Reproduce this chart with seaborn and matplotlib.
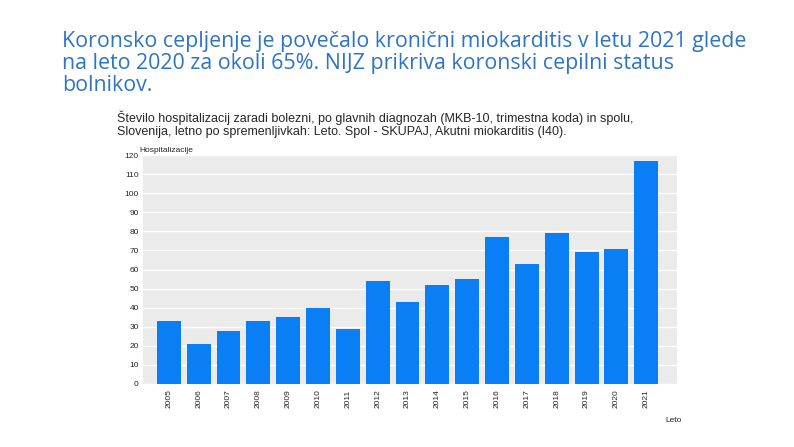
import matplotlib.pyplot as plt
import seaborn as sns
import pandas as pd

years = [str(y) for y in range(2005, 2022)]
hosp = [33, 21, 28, 33, 35, 40, 29, 54, 43, 52, 55, 77, 63, 79, 69, 71, 117]

title = ("Koronsko cepljenje je povečalo kronični miokarditis v letu 2021 glede\n"
         "na leto 2020 za okoli 65%. NIJZ prikriva koronski cepilni status\n"
         "bolnikov.")
subtitle = ("Število hospitalizacij zaradi bolezni, po glavnih diagnozah (MKB-10, trimestna koda) in spolu,\n"
            "Slovenija, letno po spremenljivkah: Leto. Spol - SKUPAJ, Akutni miokarditis (I40).")

df = pd.DataFrame({"Leto": years, "Hospitalizacije": hosp})

sns.set_style("whitegrid")
plt.rcParams['font.family'] = ['Liberation Sans', 'DejaVu Sans']

fig = plt.figure(figsize=(7.94, 4.47), dpi=100)
fig.patch.set_facecolor("white")
ax = fig.add_axes([0.180, 0.141, 0.673, 0.512])
ax.set_facecolor("#ebebeb")

sns.barplot(data=df, x="Leto", y="Hospitalizacije", color="#0a7ff5",
            saturation=1, width=0.8, linewidth=0, ax=ax, zorder=3)

ax.set_xlim(-0.87, 17.04)
ax.set_ylim(0, 120)
ax.set_yticks(range(0, 121, 10))
ax.grid(axis="y", color="white", linewidth=1, zorder=0)
ax.grid(axis="x", visible=False)
for s in ax.spines.values():
    s.set_visible(False)
ax.tick_params(axis="y", labelsize=6, length=0, pad=3)
ax.tick_params(axis="x", labelsize=6, rotation=90, length=0, pad=4)
ax.set_xlabel("")
ax.set_ylabel("")

fig.text(0.176, 0.655, "Hospitalizacije", fontsize=6, va="bottom", ha="left")
fig.text(0.848, 0.055, "Leto", fontsize=6, ha="center")

fig.text(0.078, 0.93, title, fontsize=15.4, color="#2e74c4", va="top", ha="left",
         family=['Open Sans', 'DejaVu Sans'], linespacing=1.05)
fig.text(0.147, 0.752, subtitle, fontsize=9, va="top", ha="left", linespacing=1.1)

fig.savefig("out.png", dpi=100)
